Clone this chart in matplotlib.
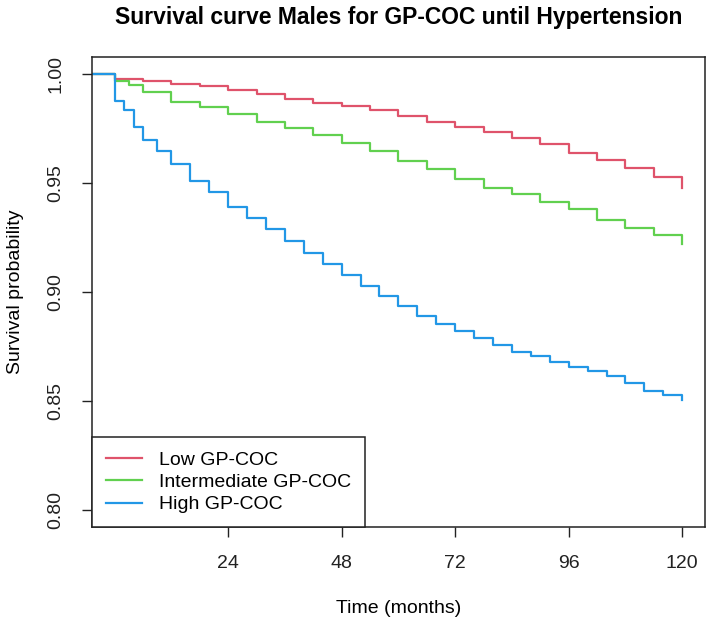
import numpy as np
import matplotlib.pyplot as plt

plt.rcParams['font.family'] = ['Liberation Sans', 'DejaVu Sans']

# Kaplan-Meier estimates (time in months, survival probability)
t_low = [-4.8, 0, 6, 12, 18, 24, 30, 36, 42, 48, 54, 60, 66, 72, 78, 84, 90, 96, 102, 108, 114, 120]
s_low = [1.0, 0.998, 0.997, 0.9957, 0.9945, 0.993, 0.991, 0.9885, 0.987, 0.9855, 0.9835, 0.981,
         0.978, 0.976, 0.9735, 0.971, 0.968, 0.964, 0.9605, 0.957, 0.953, 0.948]

t_mid = [-4.8, 0, 3, 6, 12, 18, 24, 30, 36, 42, 48, 54, 60, 66, 72, 78, 84, 90, 96, 102, 108, 114, 120]
s_mid = [1.0, 0.997, 0.995, 0.992, 0.9875, 0.985, 0.982, 0.978, 0.9755, 0.972, 0.9685, 0.965, 0.960,
         0.9565, 0.952, 0.948, 0.945, 0.9415, 0.938, 0.933, 0.9295, 0.926, 0.922]

t_high = [-4.8, 0, 2, 4, 6, 9, 12, 16, 20, 24, 28, 32, 36, 40, 44, 48, 52, 56, 60, 64, 68, 72,
          76, 80, 84, 88, 92, 96, 100, 104, 108, 112, 116, 120]
s_high = [1.0, 0.988, 0.9835, 0.976, 0.970, 0.965, 0.959, 0.951, 0.946, 0.939, 0.934, 0.929, 0.9235,
          0.918, 0.913, 0.908, 0.903, 0.898, 0.8935, 0.889, 0.8855, 0.882, 0.879, 0.8755, 0.8725,
          0.8705, 0.868, 0.8655, 0.8635, 0.8615, 0.858, 0.8545, 0.8525, 0.8505]

groups = ['Low GP-COC', 'Intermediate GP-COC', 'High GP-COC']
colors = ['#DF536B', '#61D04F', '#2297E6']

x_ticks = [24, 48, 72, 96, 120]
y_ticks = [0.80, 0.85, 0.90, 0.95, 1.00]

fig = plt.figure(figsize=(7.07, 6.23), dpi=100)
ax = fig.add_axes([0.130, 0.154, 0.867, 0.7545])

for t, s, lab, col in zip([t_low, t_mid, t_high], [s_low, s_mid, s_high], groups, colors):
    ax.step(t, s, where='post', color=col, lw=1.6, label=lab)

ax.set_xlim(-4.8, 124.8)
ax.set_ylim(0.792, 1.008)
ax.set_xticks(x_ticks)
ax.set_yticks(y_ticks)
ax.set_yticklabels(['%.2f' % v for v in y_ticks], rotation=90, va='center')
ax.tick_params(direction='out', length=7, width=1, labelsize=14, colors='#222222', pad=13)
for sp in ax.spines.values():
    sp.set_linewidth(1.1)
    sp.set_color('#222222')

ax.set_xlabel('Time (months)', fontsize=14, labelpad=20)
ax.set_ylabel('Survival probability', fontsize=14, labelpad=17)
ax.set_title('Survival curve Males for GP-COC until Hypertension', fontsize=16.5,
             fontweight='bold', pad=24)

leg = ax.legend(loc='lower left', fontsize=14, borderaxespad=0, fancybox=False,
                edgecolor='#222222', framealpha=1, handlelength=1.9, handletextpad=0.85,
                borderpad=0.7, labelspacing=0.25)
leg.get_frame().set_linewidth(1.1)

fig.savefig('out.png', dpi=100)
